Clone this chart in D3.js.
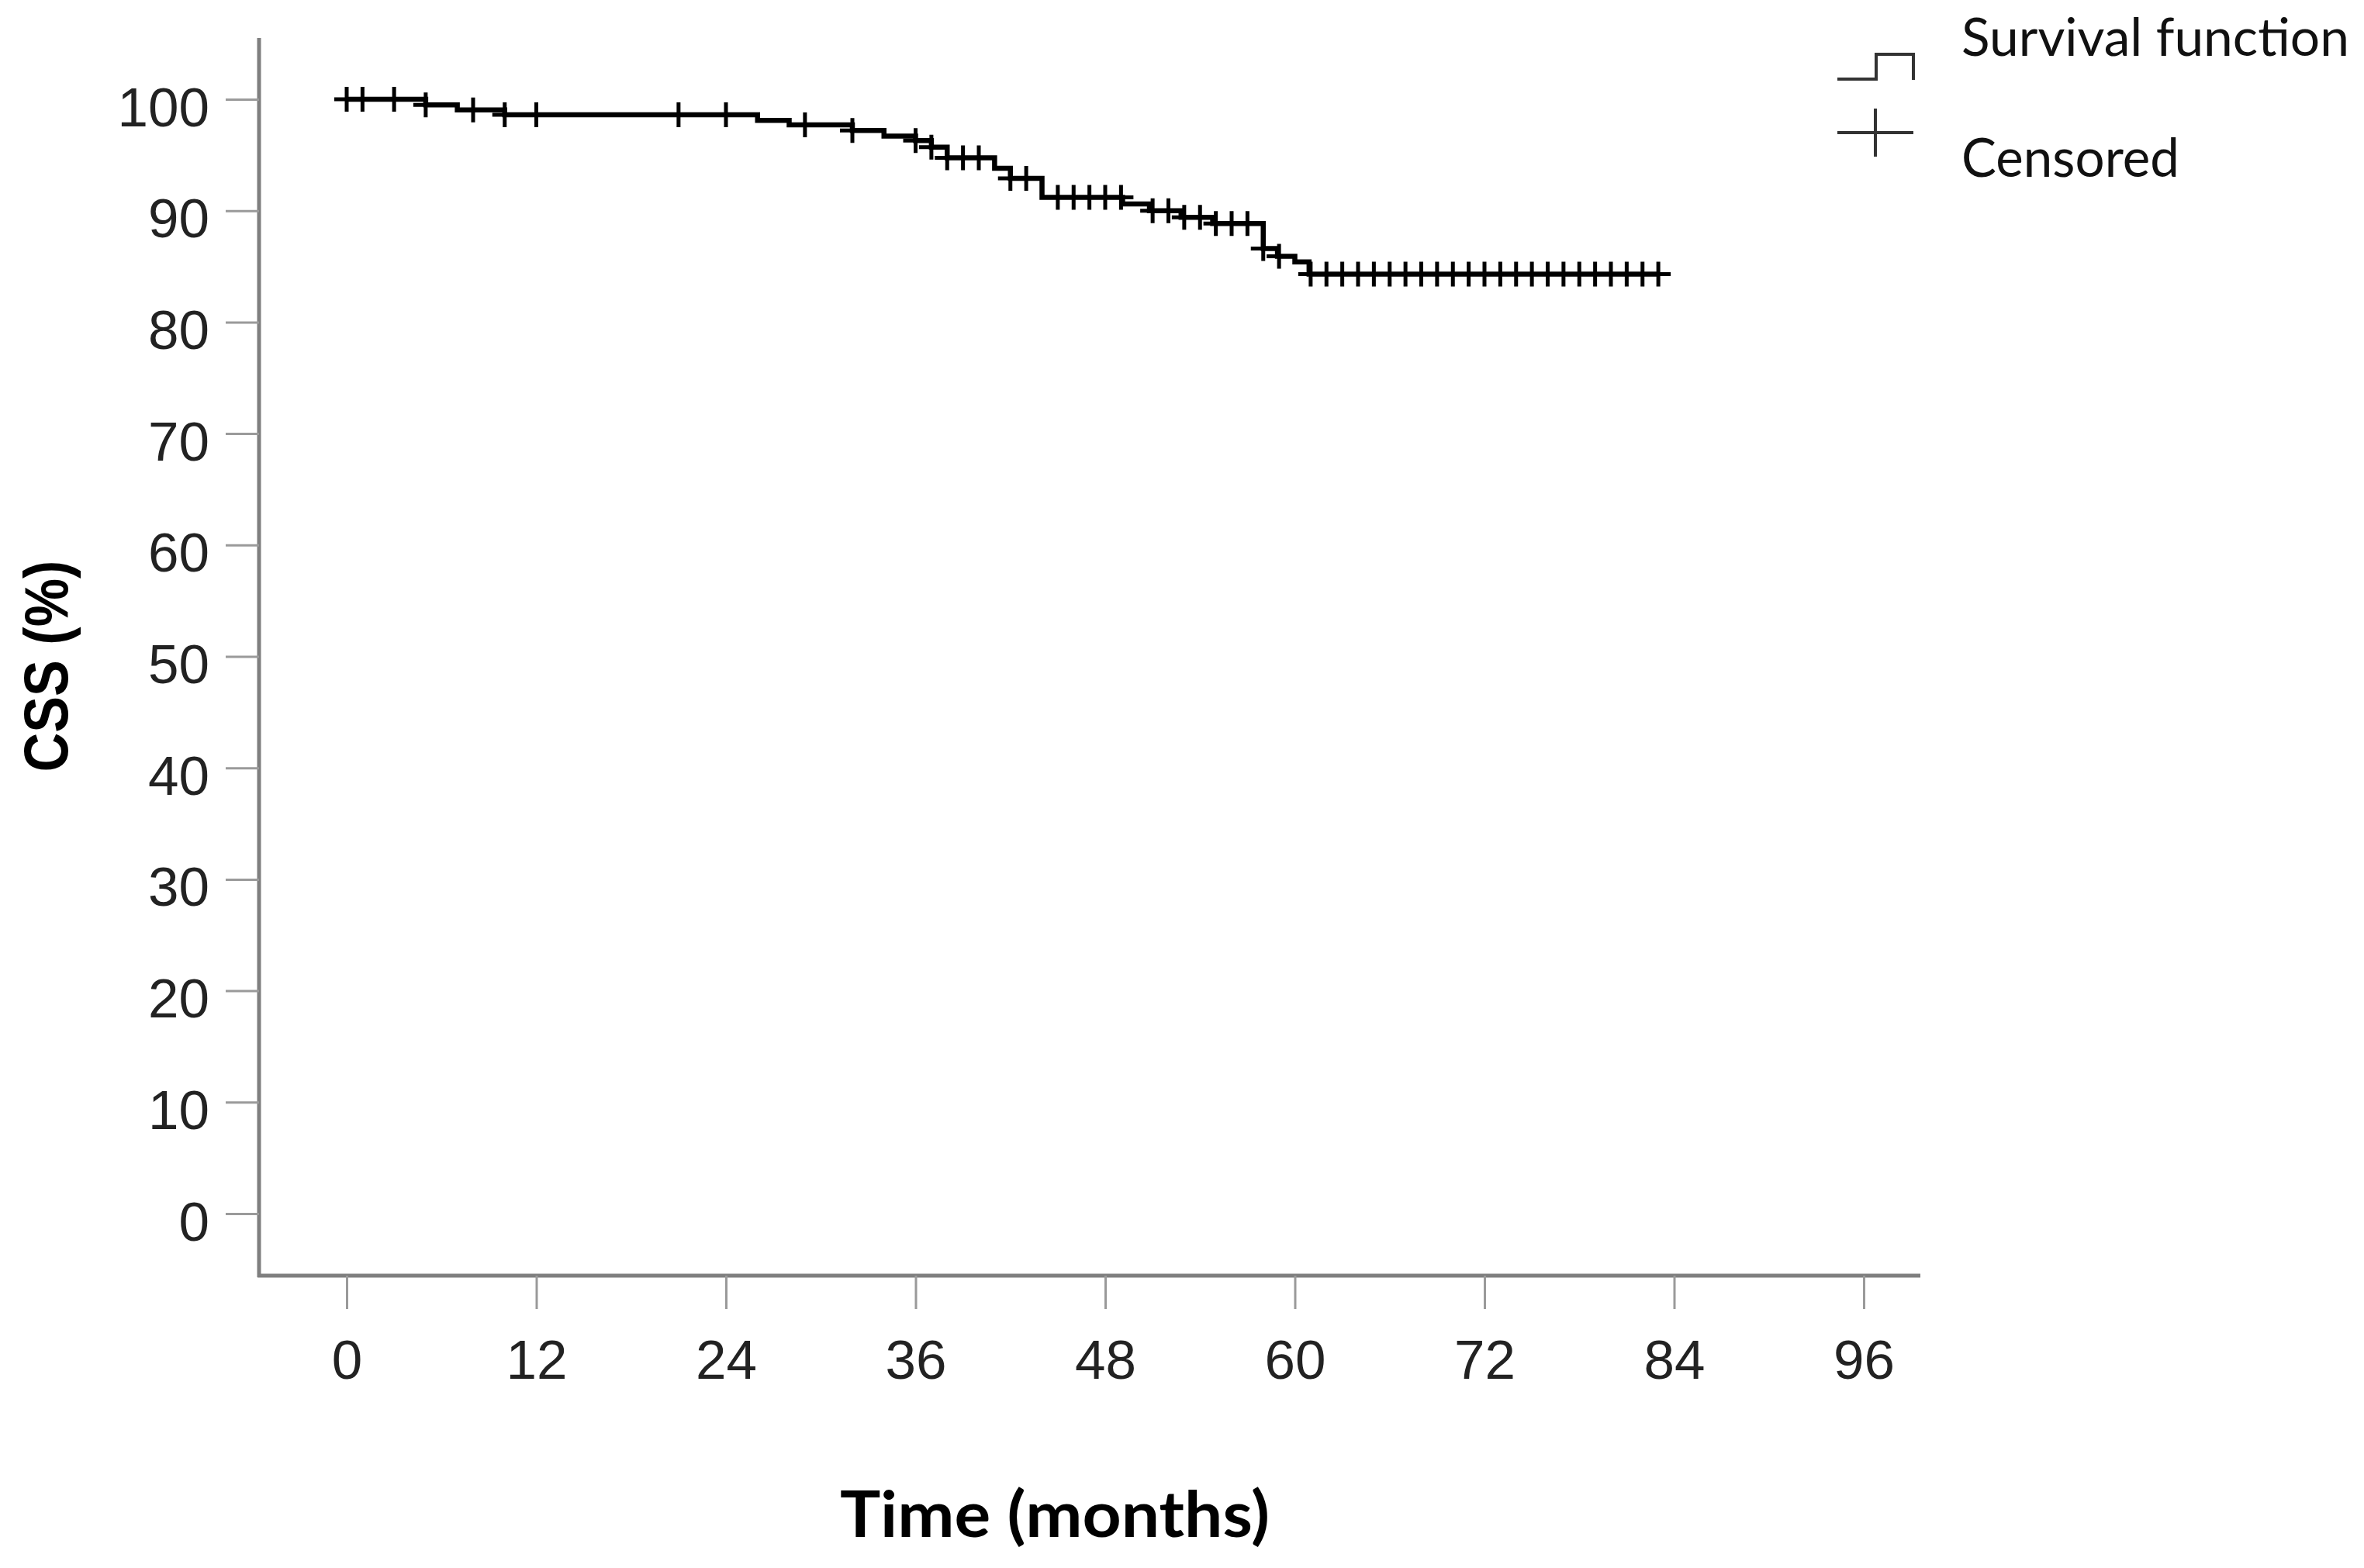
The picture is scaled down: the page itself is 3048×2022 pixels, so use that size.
<!DOCTYPE html>
<html>
<head>
<meta charset="utf-8">
<script src="https://cdn.jsdelivr.net/npm/d3@7"></script>
<style>
  body { margin: 0; background: #fff; }
  svg { display: block; }
</style>
</head>
<body>
<svg id="chart" width="3048" height="2022"></svg>
<script>
const xTicks = [0, 12, 24, 36, 48, 60, 72, 84, 96];
const yTicks = [0, 10, 20, 30, 40, 50, 60, 70, 80, 90, 100];

// event (death) times in months and survival level (%) right after each
const deathTimes  = [5, 7, 10, 26, 28, 32, 34, 36, 37, 38, 41, 42, 44, 49.1, 50.8, 52.8, 54.8, 58, 58.9, 60, 60.9];
const deathLevels = [99.5, 99.05, 98.6, 98.1, 97.7, 97.2, 96.7, 96.3, 95.7, 94.75, 93.8, 92.9, 91.2, 90.6, 90.0, 89.4, 88.85, 86.6, 85.9, 85.4, 84.3];

// censored observations (months)
const censorTimes = [0, 1, 3, 5, 8, 10, 12, 21, 24, 29, 32, 36, 37, 38, 39, 40, 42, 43,
  45, 46, 47, 48, 49, 51, 52, 53, 54, 55, 56, 57, 58, 59,
  61, 62, 63, 64, 65, 66, 67, 68, 69, 70, 71, 72, 73, 74, 75, 76, 77, 78, 79, 80, 81, 82, 83];

const svg = d3.select("#chart");

const x = d3.scaleLinear().domain([0, 96]).range([447, 2403]);
const y = d3.scaleLinear().domain([0, 100]).range([1565, 128]);

const axisLeftX = 334, axisBottomY = 1645;

// level of the survival curve at time t
function levelAt(t) {
    let s = 100;
    for (let i = 0; i < deathTimes.length; i++) {
        if (deathTimes[i] <= t) s = deathLevels[i];
    }
    return s;
}

// axis lines
svg.append("line")
    .attr("x1", axisLeftX).attr("x2", axisLeftX)
    .attr("y1", 49).attr("y2", axisBottomY + 2)
    .attr("stroke", "#7f7f7f").attr("stroke-width", 5);
svg.append("line")
    .attr("x1", axisLeftX - 2).attr("x2", 2476)
    .attr("y1", axisBottomY).attr("y2", axisBottomY)
    .attr("stroke", "#7f7f7f").attr("stroke-width", 5);

// y axis
const yAxis = svg.append("g")
    .attr("transform", `translate(${axisLeftX},0)`)
    .call(d3.axisLeft(y).tickValues(yTicks).tickSize(43).tickSizeOuter(0).tickPadding(21));
yAxis.select(".domain").remove();
yAxis.selectAll(".tick line").attr("stroke", "#9a9a9a").attr("stroke-width", 3);
yAxis.selectAll(".tick text")
    .attr("dy", 34)
    .attr("fill", "#222")
    .style("font-family", "'Liberation Sans', Arial, sans-serif")
    .style("font-size", "71px");

// x axis
const xAxis = svg.append("g")
    .attr("transform", `translate(0,${axisBottomY})`)
    .call(d3.axisBottom(x).tickValues(xTicks).tickSize(43).tickSizeOuter(0));
xAxis.select(".domain").remove();
xAxis.selectAll(".tick line").attr("stroke", "#9a9a9a").attr("stroke-width", 3);
xAxis.selectAll(".tick text")
    .attr("y", 133).attr("dy", 0)
    .attr("fill", "#222")
    .style("font-family", "'Liberation Sans', Arial, sans-serif")
    .style("font-size", "71px");

// survival step curve
const lastT = censorTimes[censorTimes.length - 1];
const pts = [[0, 100]];
deathTimes.forEach((t, i) => pts.push([t, deathLevels[i]]));
pts.push([lastT, levelAt(lastT)]);

const line = d3.line()
    .x(d => x(d[0]))
    .y(d => y(d[1]))
    .curve(d3.curveStepAfter);

svg.append("path")
    .datum(pts)
    .attr("d", line)
    .attr("fill", "none")
    .attr("stroke", "#000")
    .attr("stroke-width", 6.5);

// censored marks
const arm = 16;
svg.append("g").selectAll("path")
    .data(censorTimes)
    .join("path")
    .attr("d", t => {
        const cx = x(t), cy = y(levelAt(t));
        return `M${cx - arm},${cy}H${cx + arm}M${cx},${cy - arm}V${cy + arm}`;
    })
    .attr("fill", "none")
    .attr("stroke", "#000")
    .attr("stroke-width", 5);

// axis titles
svg.append("text")
    .attr("x", 1083).attr("y", 1982)
    .attr("textLength", 554).attr("lengthAdjust", "spacingAndGlyphs")
    .style("font-family", "Lato, 'Open Sans', sans-serif")
    .style("font-weight", "bold")
    .style("font-size", "83px")
    .attr("fill", "#000")
    .text("Time (months)");

svg.append("text")
    .attr("transform", "translate(87,859) rotate(-90)")
    .attr("text-anchor", "middle")
    .attr("textLength", 273).attr("lengthAdjust", "spacingAndGlyphs")
    .style("font-family", "'Liberation Sans', Arial, sans-serif")
    .style("font-weight", "bold")
    .style("font-size", "80px")
    .attr("fill", "#000")
    .text("CSS (%)");

// legend
const legend = svg.append("g");
legend.append("path")
    .attr("d", "M2369,102H2419V70H2467V103")
    .attr("fill", "none").attr("stroke", "#333").attr("stroke-width", 4);
legend.append("path")
    .attr("d", "M2369,171H2467M2418,140V202")
    .attr("fill", "none").attr("stroke", "#333").attr("stroke-width", 4);
legend.append("text")
    .attr("x", 2529).attr("y", 72)
    .attr("textLength", 500).attr("lengthAdjust", "spacingAndGlyphs")
    .style("font-family", "Lato, 'Open Sans', sans-serif")
    .style("font-size", "68px")
    .attr("fill", "#111")
    .text("Survival function");
legend.append("text")
    .attr("x", 2529).attr("y", 228)
    .attr("textLength", 281).attr("lengthAdjust", "spacingAndGlyphs")
    .style("font-family", "Lato, 'Open Sans', sans-serif")
    .style("font-size", "70px")
    .attr("fill", "#111")
    .text("Censored");
</script>
</body>
</html>
